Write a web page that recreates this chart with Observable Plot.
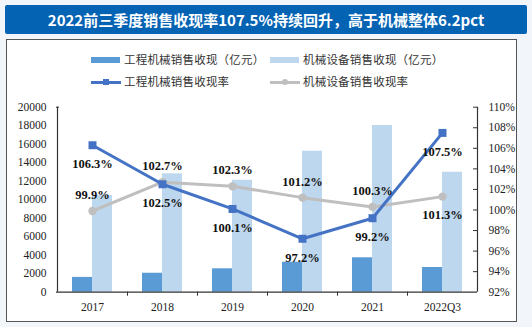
<!DOCTYPE html>
<html><head><meta charset="utf-8">
<script src="https://cdn.jsdelivr.net/npm/d3@7"></script>
<script src="https://cdn.jsdelivr.net/npm/@observablehq/plot@0.6"></script>
<style>
body{margin:0;width:532px;height:327px;background:#f2f6fb;position:relative;overflow:hidden;font-family:"Liberation Serif","Noto Sans CJK SC",serif;}
#title{position:absolute;left:5px;top:5px;width:522px;height:29px;background:#0563b4;color:#fff;font:bold 15px "Noto Sans CJK SC","Noto Sans",sans-serif;text-align:center;line-height:29px;border-radius:2px;}
#box{position:absolute;left:6px;top:39px;width:509px;height:281px;border:1.5px solid #555;background:#fff;}
.lg{position:absolute;font:11.5px "Liberation Serif","Noto Sans CJK SC",serif;color:#333;letter-spacing:0.2px;white-space:nowrap;line-height:14px;}
.sw{position:absolute;}
#chart{position:absolute;left:7px;top:95px;}
</style></head><body>
<div id="title">2022前三季度销售收现率107.5%持续回升，高于机械整体6.2pct</div>
<div id="box"></div>
<div id="legend"></div>
<div id="chart"></div>
<script>
const categories = ["2017","2018","2019","2020","2021","2022Q3"];
const cmSales = [1600, 2050, 2530, 3240, 3720, 2670];        // 工程机械销售收现（亿元）
const mechSales = [10450, 12800, 12100, 15240, 18020, 12970]; // 机械设备销售收现（亿元）
const cmRate = [106.3, 102.5, 100.1, 97.2, 99.2, 107.5];      // 工程机械销售收现率
const mechRate = [99.9, 102.7, 102.3, 101.2, 100.3, 101.3];   // 机械设备销售收现率
const leftTicks = [0,2000,4000,6000,8000,10000,12000,14000,16000,18000,20000];
const rightTicks = [92,94,96,98,100,102,104,106,108,110];
const seriesNames = ["工程机械销售收现（亿元）","机械设备销售收现（亿元）","工程机械销售收现率","机械设备销售收现率"];

const C_DARK = "#5b9bd5", C_LIGHT = "#bdd7ee", C_BLUE = "#4472c4", C_GRAY = "#bfbfbf";

const rMin = 92, rMax = 110, yMax = 20000;
const toY = r => (r - rMin) / (rMax - rMin) * yMax;

const bars = categories.map((c,i)=>({c, cm: cmSales[i], mech: mechSales[i]}));
const cmPts = categories.map((c,i)=>({c, r: cmRate[i], y: toY(cmRate[i])}));
const mechPts = categories.map((c,i)=>({c, r: mechRate[i], y: toY(mechRate[i])}));
const mechLabelBelow = [false,false,false,false,false,true];

const W = 508, H = 225;
const mL = 49, mR = 38, mT = 11.7, mB = 28.3;
const plotH = H - mT - mB, plotW = W - mL - mR;
const font = "Liberation Serif";
const AX = "#333";
const lbl = {fontWeight: "bold", fontSize: 12.5, fill: "#111", letterSpacing: "0.5px"};

const chart = Plot.plot({
  width: W, height: H,
  marginLeft: mL, marginRight: mR, marginTop: mT, marginBottom: mB,
  style: {fontFamily: font, fontSize: "11.5px", color: "#222", background: "transparent", overflow: "visible"},
  x: {type: "band", domain: categories, padding: 0, axis: null},
  y: {domain: [0, yMax], axis: null},
  marks: [
    Plot.barY(bars, {x: "c", y: "cm", fill: C_DARK, insetLeft: 15, insetRight: 35}),
    Plot.barY(bars, {x: "c", y: "mech", fill: C_LIGHT, insetLeft: 35, insetRight: 15}),
    // left axis
    Plot.axisY({anchor: "left", ticks: leftTicks, tickSize: 0, tickPadding: 10, tickFormat: d => String(d), fontSize: 11.5, fill: "#222", label: null}),
    Plot.ruleX([categories[0]], {x: d => d, dx: -35, stroke: AX, strokeWidth: 1.2}),
    Plot.ruleY([yMax], {y: d => d, insetRight: plotW - 3, stroke: AX}),
    // right axis
    Plot.axisY({anchor: "right", ticks: rightTicks.map(toY), tickSize: 0, tickPadding: 11, textAnchor: "start",
      tickFormat: (d) => Math.round(d / yMax * (rMax - rMin) + rMin) + "%", fontSize: 11.5, fill: "#222", label: null}),
    Plot.ruleX([categories[categories.length-1]], {x: d => d, dx: 35, stroke: AX, strokeWidth: 1.2}),
    Plot.ruleY(rightTicks.slice(1).map(toY), {y: d => d, insetLeft: plotW - 4, stroke: AX}),
    // bottom axis
    Plot.ruleY([0], {stroke: AX, strokeWidth: 1.2}),
    Plot.ruleX(categories.slice(1), {x: d => d, dx: -35, insetTop: plotH, insetBottom: -4, stroke: AX}),
    Plot.axisX({domain: categories, tickSize: 0, tickPadding: 11, fontSize: 11.5, fill: "#222", label: null}),
    // lines
    Plot.line(mechPts, {x: "c", y: "y", stroke: C_GRAY, strokeWidth: 3}),
    Plot.dot(mechPts, {x: "c", y: "y", fill: C_GRAY, r: 4.2, stroke: null}),
    Plot.line(cmPts, {x: "c", y: "y", stroke: C_BLUE, strokeWidth: 3}),
    Plot.dot(cmPts, {x: "c", y: "y", fill: C_BLUE, symbol: "square", r: 4.5, stroke: null}),
    // labels
    Plot.text(cmPts, {x: "c", y: "y", text: d => d.r.toFixed(1) + "%", dy: 19, ...lbl}),
    Plot.text(mechPts.filter((d,i)=>!mechLabelBelow[i]), {x: "c", y: "y", text: d => d.r.toFixed(1) + "%", dy: -16, ...lbl}),
    Plot.text(mechPts.filter((d,i)=>mechLabelBelow[i]), {x: "c", y: "y", text: d => d.r.toFixed(1) + "%", dy: 18, ...lbl})
  ]
});
document.getElementById("chart").appendChild(chart);

// Legend
const lg = document.getElementById("legend");
const items = [
  {name: seriesNames[0], x: 91, y: 60, kind: "rect", color: C_DARK},
  {name: seriesNames[1], x: 270, y: 60, kind: "rect", color: C_LIGHT},
  {name: seriesNames[2], x: 91, y: 82, kind: "line", color: C_BLUE, marker: "square"},
  {name: seriesNames[3], x: 270, y: 82, kind: "line", color: C_GRAY, marker: "circle"}
];
items.forEach(it => {
  const sw = document.createElement("div");
  sw.className = "sw";
  if (it.kind === "rect") {
    sw.style.cssText = `left:${it.x}px;top:${it.y-3}px;width:29px;height:6px;background:${it.color};`;
    lg.appendChild(sw);
  } else {
    sw.style.cssText = `left:${it.x}px;top:${it.y-1.5}px;width:30px;height:3px;background:${it.color};`;
    lg.appendChild(sw);
    const m = document.createElement("div");
    m.className = "sw";
    m.style.cssText = `left:${it.x+12}px;top:${it.y-3}px;width:6px;height:6px;background:${it.color};${it.marker==="circle"?"border-radius:50%;":""}`;
    lg.appendChild(m);
  }
  const t = document.createElement("div");
  t.className = "lg";
  t.style.left = (it.x + 33) + "px";
  t.style.top = (it.y - 7) + "px";
  t.textContent = it.name;
  lg.appendChild(t);
});
</script>
</body></html>
